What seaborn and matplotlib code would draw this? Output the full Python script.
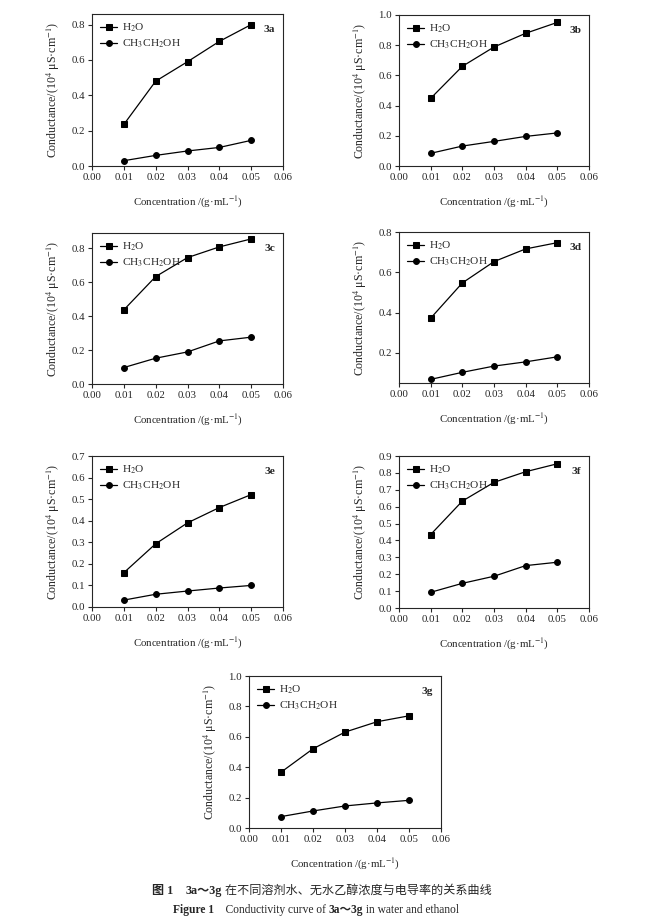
import numpy as np
import pandas as pd
import matplotlib
matplotlib.use("Agg")
import matplotlib.pyplot as plt
import seaborn as sns
from matplotlib.ticker import FormatStrFormatter

# data
conc = [0.01, 0.02, 0.03, 0.04, 0.05]
panels = ["3a", "3b", "3c", "3d", "3e", "3f", "3g"]

water_3a = [0.235, 0.48, 0.59, 0.705, 0.80]
ethanol_3a = [0.03, 0.06, 0.085, 0.105, 0.145]
water_3b = [0.448, 0.66, 0.788, 0.879, 0.951]
ethanol_3b = [0.084, 0.132, 0.163, 0.196, 0.219]
water_3c = [0.437, 0.633, 0.745, 0.808, 0.855]
ethanol_3c = [0.097, 0.152, 0.189, 0.254, 0.276]
water_3d = [0.372, 0.547, 0.653, 0.716, 0.747]
ethanol_3d = [0.068, 0.103, 0.134, 0.155, 0.180]
water_3e = [0.159, 0.293, 0.390, 0.461, 0.521]
ethanol_3e = [0.032, 0.059, 0.074, 0.088, 0.100]
water_3f = [0.435, 0.633, 0.744, 0.807, 0.854]
ethanol_3f = [0.093, 0.146, 0.188, 0.251, 0.271]
water_3g = [0.367, 0.521, 0.631, 0.699, 0.738]
ethanol_3g = [0.075, 0.112, 0.145, 0.165, 0.182]

water = [water_3a, water_3b, water_3c, water_3d, water_3e, water_3f, water_3g]
ethanol = [ethanol_3a, ethanol_3b, ethanol_3c, ethanol_3d, ethanol_3e, ethanol_3f, ethanol_3g]

ylims = [(0, 0.86), (0, 1.0), (0, 0.89), (0.05, 0.8), (0, 0.7), (0, 0.9), (0, 1.0)]
yticks = [np.arange(0, 0.81, 0.2), np.arange(0, 1.01, 0.2), np.arange(0, 0.81, 0.2),
          np.arange(0.2, 0.81, 0.2), np.arange(0, 0.71, 0.1), np.arange(0, 0.91, 0.1),
          np.arange(0, 1.01, 0.2)]
xticks = [0.00, 0.01, 0.02, 0.03, 0.04, 0.05, 0.06]

sns.set_theme(style="ticks")
plt.rcParams['font.family'] = ['Liberation Serif', 'Noto Sans CJK SC']
plt.rcParams['mathtext.fontset'] = 'stix'
plt.rcParams['axes.linewidth'] = 0.8
plt.rcParams['xtick.major.width'] = 0.8
plt.rcParams['ytick.major.width'] = 0.8
plt.rcParams['xtick.major.size'] = 3
plt.rcParams['ytick.major.size'] = 3

W, H = 649, 921
fig = plt.figure(figsize=(W / 100, H / 100), dpi=100)

# axes boxes in pixels: left, top, right, bottom
boxes = [(92, 14, 283, 166), (399, 15, 589, 166),
         (92, 233, 283, 384), (399, 232, 589, 383),
         (92, 456, 283, 607), (399, 456, 589, 608),
         (249, 676, 441, 828)]

for i, name in enumerate(panels):
    l, t, r, b = boxes[i]
    ax = fig.add_axes([l / W, 1 - b / H, (r - l) / W, (b - t) / H])
    df = pd.DataFrame({"c": conc, "w": water[i], "e": ethanol[i]})
    sns.lineplot(data=df, x="c", y="w", marker="s", color="black", lw=0.9,
                 markersize=4.2, markeredgecolor="black", label="H$_2$O", ax=ax)
    sns.lineplot(data=df, x="c", y="e", marker="o", color="black", lw=0.9,
                 markersize=4.2, markeredgecolor="black", label="CH$_3$CH$_2$OH", ax=ax)
    ax.set_xlim(0, 0.06)
    ax.set_ylim(*ylims[i])
    ax.set_xticks(xticks)
    ax.set_yticks(yticks[i])
    ax.xaxis.set_major_formatter(FormatStrFormatter('%.2f'))
    ax.yaxis.set_major_formatter(FormatStrFormatter('%.1f'))
    ax.tick_params(labelsize=7.8, direction='out', pad=2)
    ax.set_xlabel("Concentration /(g·mL$^{-1}$)", fontsize=7.8, labelpad=9)
    ax.set_ylabel("Conductance/(10$^4$ μS·cm$^{-1}$)", fontsize=8.6, labelpad=7)
    ax.legend(loc="upper left", frameon=False, fontsize=8.2, handlelength=1.5,
              handletextpad=0.4, labelspacing=0.3, borderaxespad=0.3)
    ax.text(0.96, 0.93, name, transform=ax.transAxes, ha="right", va="top",
            fontsize=8.2, fontweight="bold")

# caption with mixed bold / regular pieces
fig.canvas.draw()
renderer = fig.canvas.get_renderer()


def caption_line(pieces, y, cx, size):
    objs = []
    for txt, wt in pieces:
        objs.append(fig.text(0, y, txt, fontsize=size, fontweight=wt, ha="left", va="center"))
    widths = [o.get_window_extent(renderer).width for o in objs]
    x = cx - sum(widths) / 2
    for o, w in zip(objs, widths):
        o.set_x(x / W)
        x += w


caption_line([("图 1", "bold"), ("    ", "normal"), ("3a～3g", "bold"),
              (" 在不同溶剂水、无水乙醇浓度与电导率的关系曲线", "normal")],
             1 - 891 / H, 322, 8.7)
caption_line([("Figure 1", "bold"), ("    Conductivity curve of ", "normal"),
              ("3a～3g", "bold"), (" in water and ethanol", "normal")],
             1 - 910 / H, 316, 8.3)

fig.savefig("out.png", dpi=100)
